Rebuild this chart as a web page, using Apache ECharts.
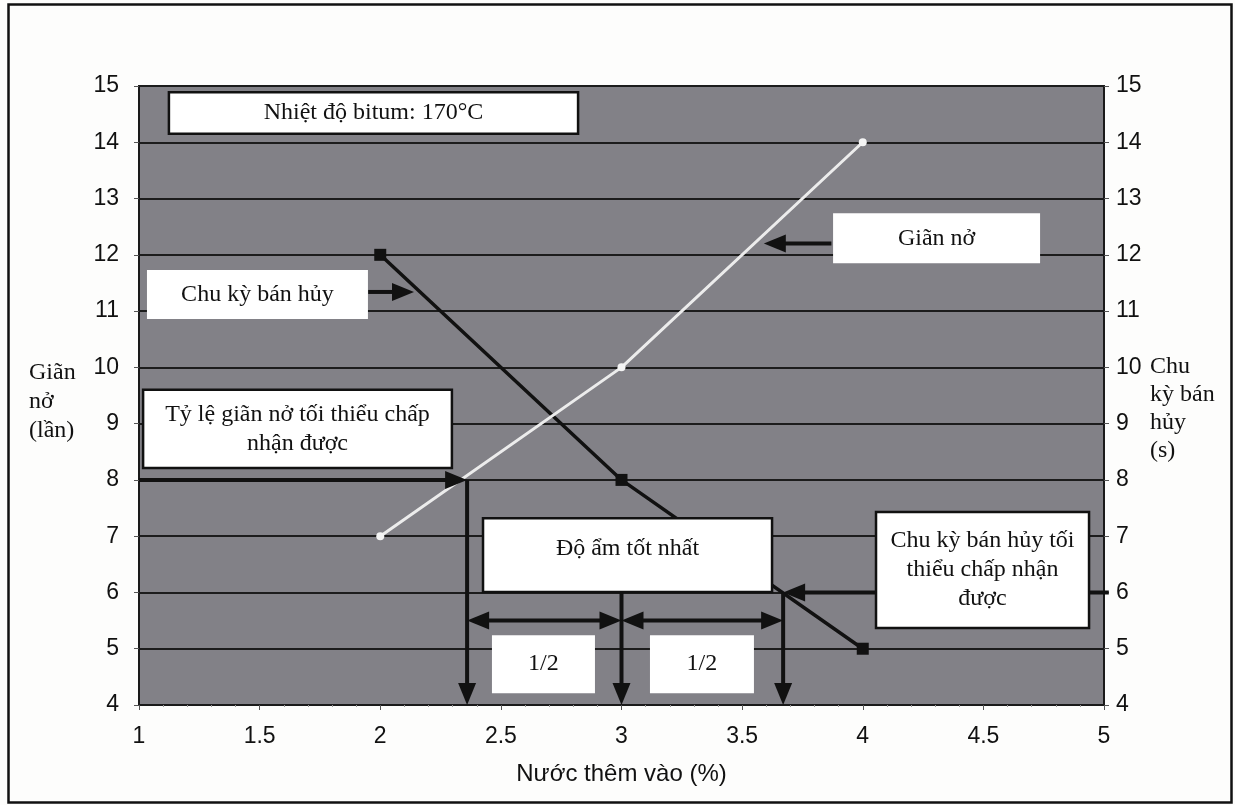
<!DOCTYPE html>
<html>
<head>
<meta charset="utf-8">
<script src="https://cdn.jsdelivr.net/npm/echarts@6/dist/echarts.min.js"></script>
<style>
html,body{margin:0;padding:0;background:#fdfdfc;}
#c{width:1235px;height:805px;}
</style>
</head>
<body>
<div id="c"></div>
<script>
// ---- data ----
const waterPct = [2, 3, 4];
const expansion = [7, 10, 14];        // Giãn nở (lần)
const halfLife = [12, 8, 5];           // Chu kỳ bán hủy (s)
const xTicks = [1, 1.5, 2, 2.5, 3, 3.5, 4, 4.5, 5];
const yTicks = [4, 5, 6, 7, 8, 9, 10, 11, 12, 13, 14, 15];

// annotation boxes in data coordinates: x1, y1(top), x2, y2(bottom), bordered
const noteBoxes = [
  [1.124, 14.89, 2.82, 14.15, 1],
  [3.877, 12.74, 4.735, 11.85, 0],
  [1.033, 11.73, 1.949, 10.86, 0],
  [1.017, 9.60, 2.297, 8.21, 1],
  [2.426, 7.32, 3.624, 6.01, 1],
  [2.463, 5.24, 2.890, 4.21, 0],
  [3.118, 5.24, 3.549, 4.21, 0],
  [4.055, 7.43, 4.938, 5.37, 1]
];
const noteTexts = [
  'Nhiệt độ bitum: 170°C',
  'Giãn nở',
  'Chu kỳ bán hủy',
  'Tỷ lệ giãn nở tối thiểu chấp\nnhận được',
  'Độ ẩm tốt nhất',
  '1/2',
  '1/2',
  'Chu kỳ bán hủy tối\nthiểu chấp nhận\nđược'
];
// arrows in data coordinates: x1, y1, x2(tip), y2(tip), doubleHeaded
const arrows = [
  [1, 8, 2.36, 8, 0],
  [2.36, 8, 2.36, 4, 0],
  [3, 6.01, 3, 4, 0],
  [2.36, 5.5, 3, 5.5, 1],
  [3, 5.5, 3.67, 5.5, 1],
  [3.67, 6, 3.67, 4, 0],
  [5.02, 6, 3.67, 6, 0],
  [3.87, 12.2, 3.59, 12.2, 0],
  [1.95, 11.34, 2.14, 11.34, 0]
];

const SANS = "'Liberation Sans',Arial,sans-serif";
const SERIF = "'Liberation Serif','Times New Roman',serif";
const HEAD_L = 22, HEAD_W = 18;

const chart = echarts.init(document.getElementById('c'));

function headPoints(tip, from) {
  const dx = tip[0] - from[0], dy = tip[1] - from[1];
  const len = Math.sqrt(dx * dx + dy * dy) || 1;
  const ux = dx / len, uy = dy / len;
  const bx = tip[0] - ux * HEAD_L, by = tip[1] - uy * HEAD_L;
  return {
    poly: [[tip[0], tip[1]], [bx - uy * HEAD_W / 2, by + ux * HEAD_W / 2], [bx + uy * HEAD_W / 2, by - ux * HEAD_W / 2]],
    base: [tip[0] - ux * (HEAD_L - 2), tip[1] - uy * (HEAD_L - 2)]
  };
}

chart.setOption({
  animation: false,
  backgroundColor: '#fdfdfc',
  grid: {
    left: 139, right: 131, top: 86, bottom: 100,
    show: true, backgroundColor: '#828187', borderColor: '#1a1a1a', borderWidth: 2
  },
  xAxis: {
    type: 'value', min: 1, max: 5, interval: 0.5,
    name: 'Nước thêm vào (%)', nameLocation: 'middle', nameGap: 57,
    nameTextStyle: {fontFamily: SANS, fontSize: 24, color: '#111'},
    axisLine: {show: true, onZero: false, lineStyle: {color: '#1a1a1a', width: 2}},
    axisTick: {show: true, length: 5, lineStyle: {color: '#555'}},
    minorTick: {show: true, splitNumber: 5, length: 2, lineStyle: {color: '#999'}},
    axisLabel: {fontFamily: SANS, fontSize: 23, color: '#111', margin: 20,
      formatter: v => String(v)},
    splitLine: {show: false}
  },
  yAxis: [
    {
      type: 'value', min: 4, max: 15, interval: 1, position: 'left',
      axisLine: {show: true, lineStyle: {color: '#1a1a1a', width: 2}},
      axisTick: {show: true, length: 5, lineStyle: {color: '#555'}},
      axisLabel: {fontFamily: SANS, fontSize: 23, color: '#111', margin: 20},
      splitLine: {show: true, lineStyle: {color: '#1c1c1c', width: 2}}
    },
    {
      type: 'value', min: 4, max: 15, interval: 1, position: 'right',
      axisLine: {show: true, lineStyle: {color: '#1a1a1a', width: 2}},
      axisTick: {show: true, length: 5, lineStyle: {color: '#555'}},
      axisLabel: {fontFamily: SANS, fontSize: 23, color: '#111', margin: 12},
      splitLine: {show: false}
    }
  ],
  series: [
    {
      name: 'Chu kỳ bán hủy', type: 'line', yAxisIndex: 1, z: 2,
      data: waterPct.map((x, i) => [x, halfLife[i]]),
      symbol: 'rect', symbolSize: 12,
      lineStyle: {color: '#111', width: 3.5},
      itemStyle: {color: '#111'}
    },
    {
      name: 'Giãn nở', type: 'line', yAxisIndex: 0, z: 2,
      data: waterPct.map((x, i) => [x, expansion[i]]),
      symbol: 'circle', symbolSize: 8,
      lineStyle: {color: '#ececec', width: 3},
      itemStyle: {color: '#f4f4f4'}
    },
    {
      name: 'arrows', type: 'custom', yAxisIndex: 0, z: 3, clip: false,
      data: arrows,
      renderItem: function (params, api) {
        const p1 = api.coord([api.value(0), api.value(1)]);
        const p2 = api.coord([api.value(2), api.value(3)]);
        const dbl = api.value(4) === 1;
        const h2 = headPoints(p2, p1);
        const children = [];
        let start = p1;
        if (dbl) {
          const h1 = headPoints(p1, p2);
          start = h1.base;
          children.push({type: 'polygon', shape: {points: h1.poly}, style: {fill: '#111'}});
        }
        children.push({type: 'line', shape: {x1: start[0], y1: start[1], x2: h2.base[0], y2: h2.base[1]},
                       style: {stroke: '#111', lineWidth: 4}});
        children.push({type: 'polygon', shape: {points: h2.poly}, style: {fill: '#111'}});
        return {type: 'group', children: children};
      }
    },
    {
      name: 'notes', type: 'custom', yAxisIndex: 0, z: 5, clip: false,
      data: noteBoxes.map((b, i) => b.concat([i])),
      renderItem: function (params, api) {
        const p1 = api.coord([api.value(0), api.value(1)]);
        const p2 = api.coord([api.value(2), api.value(3)]);
        const bordered = api.value(4) === 1;
        const idx = api.value(5);
        return {
          type: 'group',
          children: [
            {type: 'rect', shape: {x: p1[0], y: p1[1], width: p2[0] - p1[0], height: p2[1] - p1[1]},
             style: {fill: '#ffffff', stroke: bordered ? '#111' : null, lineWidth: bordered ? 2.5 : 0}},
            {type: 'text', x: (p1[0] + p2[0]) / 2, y: (p1[1] + p2[1]) / 2 - (idx === 4 ? 6 : 0),
             style: {text: noteTexts[idx], fontFamily: SERIF, fontSize: 24, lineHeight: 29,
                     fill: '#111', align: 'center', verticalAlign: 'middle'}}
          ]
        };
      }
    }
  ],
  graphic: [
    {type: 'rect', left: 6, top: 2, shape: {width: 1223, height: 798},
     style: {fill: null, stroke: '#111', lineWidth: 2.5}, silent: true, z: 0},
    {type: 'text', left: 29, top: 358,
     style: {text: 'Giãn\nnở\n(lần)', fontFamily: SERIF, fontSize: 24, lineHeight: 29, fill: '#111', align: 'center'}},
    {type: 'text', left: 1150, top: 353,
     style: {text: 'Chu\nkỳ bán\nhủy\n(s)', fontFamily: SERIF, fontSize: 24, lineHeight: 28, fill: '#111', align: 'center'}}
  ]
});
</script>
</body>
</html>
